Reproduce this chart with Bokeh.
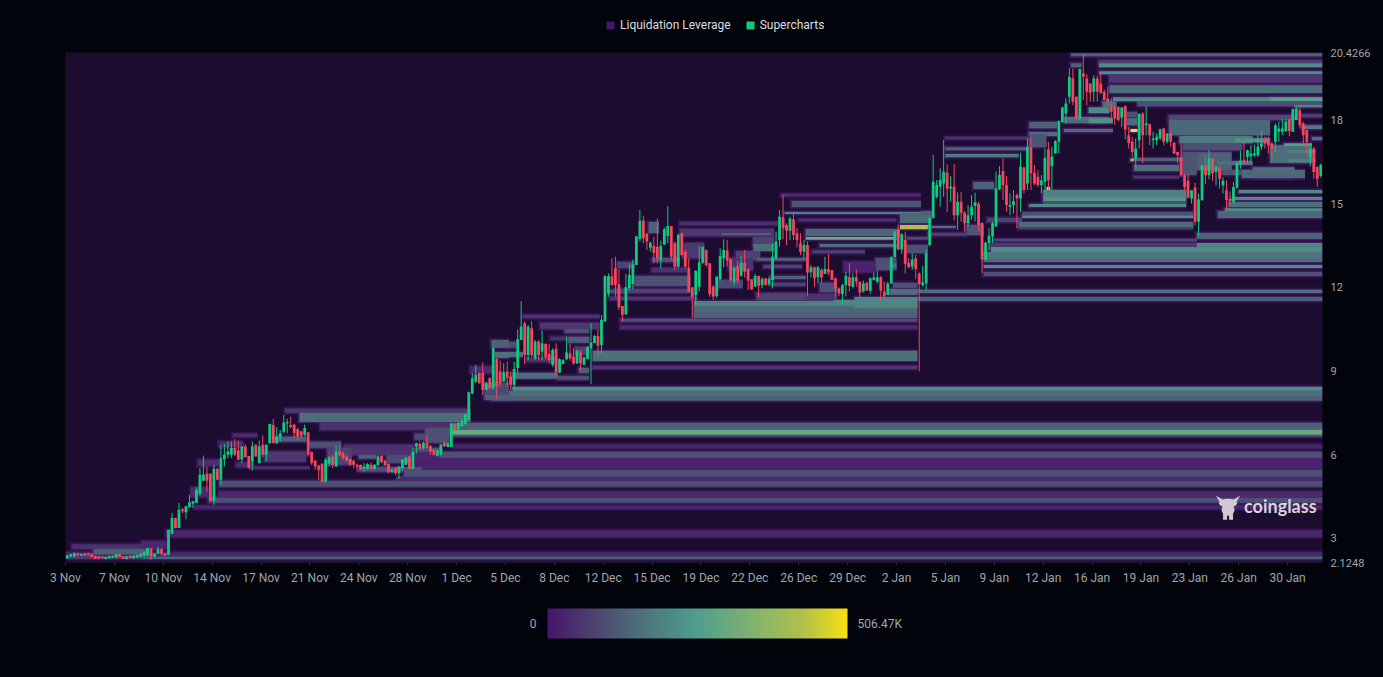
from bokeh.plotting import figure
from bokeh.layouts import column
from bokeh.models import (ColumnDataSource, LinearColorMapper, ColorBar, FixedTicker, Legend, LegendItem,
                          Label, Range1d)
from bokeh.embed import file_html
from bokeh.resources import INLINE

# ---- axis labels ----
date_labels = ["3 Nov","7 Nov","10 Nov","14 Nov","17 Nov","21 Nov","24 Nov","28 Nov","1 Dec","5 Dec","8 Dec","12 Dec",
               "15 Dec","19 Dec","22 Dec","26 Dec","29 Dec","2 Jan","5 Jan","9 Jan","12 Jan","16 Jan","19 Jan","23 Jan",
               "26 Jan","30 Jan"]
price_ticks = [2.1248, 3, 6, 9, 12, 15, 18, 20.4266]
price_labels = ["2.1248", "3", "6", "9", "12", "15", "18", "20.4266"]
heat_max = 506.47

# ---- candles: (open, high, low, close), one every 6 hours ----
candles_a = [
(2.28,2.40,2.26,2.38),(2.34,2.43,2.32,2.43),(2.34,2.49,2.33,2.46),(2.46,2.47,2.38,2.38),(2.37,2.45,2.36,2.44),
(2.45,2.46,2.37,2.37),(2.46,2.47,2.38,2.38),(2.44,2.44,2.32,2.32),(2.37,2.37,2.25,2.25),(2.34,2.34,2.26,2.26),
(2.34,2.34,2.28,2.28),(2.25,2.32,2.24,2.32),(2.28,2.36,2.27,2.36),(2.30,2.37,2.29,2.37),(2.30,2.43,2.29,2.43),
(2.43,2.44,2.32,2.32),(2.34,2.34,2.25,2.25),(2.25,2.34,2.24,2.34),(2.37,2.38,2.28,2.28),(2.28,2.38,2.27,2.38),
(2.30,2.40,2.29,2.40),(2.32,2.44,2.31,2.44),(2.34,2.52,2.33,2.49),(2.37,2.66,2.36,2.64),(2.64,2.65,2.22,2.34),
(2.34,2.46,2.30,2.44),(2.44,2.68,2.44,2.62),(2.62,2.63,2.37,2.44),(2.46,2.47,2.36,2.38),(2.40,3.30,2.40,3.30),
(3.16,3.90,3.15,3.72),(3.72,3.73,3.36,3.36),(3.36,4.26,3.36,4.02),(4.04,4.08,3.90,3.96),(3.93,4.14,3.68,4.14),
(4.11,4.55,4.10,4.28),(4.23,4.34,4.08,4.32),(4.26,4.83,4.26,4.73),(4.59,5.51,4.52,5.27),(5.06,5.96,5.05,5.27),
(5.31,5.57,4.67,5.06),(5.31,5.32,4.35,4.35),(4.34,5.63,4.20,5.49),(5.49,5.50,5.08,5.09),(5.09,6.32,4.91,5.87),
(5.83,6.38,5.57,5.99),(5.99,6.47,5.87,6.11),(5.99,6.47,5.87,6.23),(6.23,6.55,5.95,5.99),(6.14,6.50,5.81,5.81),
(5.83,6.29,5.69,6.29),(6.29,6.37,5.90,5.90),(5.95,5.95,5.51,5.51),(5.75,6.47,5.43,6.29),(6.35,6.36,5.93,5.93),
(5.69,6.50,5.69,6.29),(6.35,6.68,5.90,5.99),(5.99,6.37,5.75,6.35),(6.41,7.10,6.40,7.10),(7.06,7.28,6.40,6.41),
(6.41,6.98,6.37,6.65),(6.62,6.88,6.47,6.76),(6.82,7.42,6.76,7.15),(7.12,7.28,6.76,7.17),
]
candles_b = [
(7.06,7.36,6.94,6.98),(7.07,7.10,6.59,6.77),(6.91,6.95,6.53,6.65),(6.83,6.86,6.59,6.68),(6.71,7.07,6.65,6.95),
(6.80,6.80,5.93,5.99),(6.09,6.11,5.63,5.69),(5.78,5.81,5.45,5.57),(5.60,5.63,5.09,5.45),(5.67,5.69,5.00,5.03),
(5.03,5.87,5.00,5.81),(5.67,5.95,5.57,5.89),(5.93,5.99,5.51,5.63),(5.57,6.31,5.57,6.11),(6.11,6.35,5.93,5.99),
(6.05,6.11,5.81,5.87),(5.93,5.99,5.75,5.78),(5.84,5.84,5.60,5.63),(5.78,5.81,5.51,5.63),(5.63,5.67,5.39,5.57),
(5.63,5.63,5.45,5.47),(5.50,5.69,5.39,5.55),(5.48,5.69,5.45,5.66),(5.63,5.72,5.45,5.48),(5.48,5.66,5.45,5.63),
(5.61,5.97,5.61,5.93),(5.95,5.97,5.69,5.72),(5.78,5.81,5.60,5.61),(5.67,5.67,5.33,5.36),(5.38,5.49,5.33,5.45),
(5.51,5.55,5.27,5.33),(5.33,5.57,5.12,5.57),(5.51,5.84,5.45,5.81),(5.63,5.91,5.63,5.87),(5.93,5.93,5.49,5.49),
(5.49,6.23,5.49,6.09),(6.29,6.43,6.05,6.41),(6.38,6.47,6.19,6.21),(6.23,6.47,6.17,6.41),(6.41,6.68,6.23,6.23),
(6.31,6.35,5.99,6.11),(6.17,6.19,5.97,5.99),(5.95,6.17,5.93,6.14),(6.00,6.38,5.95,6.36),(6.43,6.47,6.27,6.29),
(6.27,6.43,6.27,6.41),(6.27,7.13,6.27,7.10),(7.09,7.13,6.83,6.89),(6.91,7.19,6.91,7.13),(7.01,7.27,7.01,7.19),
(7.09,7.46,7.07,7.43),(7.25,8.26,7.25,8.24),(8.18,8.92,8.18,8.74),(8.62,9.22,8.56,8.86),(8.92,8.94,8.54,8.56),
(8.92,9.30,8.14,8.32),(8.32,8.60,8.30,8.56),(8.74,8.77,8.35,8.38),(8.38,9.87,8.32,9.81),(9.43,9.46,8.00,8.44),
(8.98,9.37,8.44,8.56),(8.62,9.28,8.62,8.95),(8.98,9.34,8.42,8.74),
]
candles_c = [
(8.80,8.98,8.32,8.50),(8.50,9.33,8.32,9.07),(9.10,10.49,8.92,10.14),(10.11,11.51,10.11,10.59),(10.71,10.77,9.24,9.57),
(9.57,10.65,9.39,10.59),(10.53,10.79,9.51,9.57),(9.45,10.11,9.39,10.05),(10.05,10.11,9.37,9.57),(9.69,10.45,9.39,9.99),
(9.97,9.99,9.42,9.49),(9.61,9.97,9.27,9.39),(9.22,9.81,9.15,9.75),(9.79,9.99,8.80,8.95),(8.94,9.45,8.92,9.42),
(9.25,9.43,9.25,9.38),(9.42,10.23,9.39,9.66),(9.63,9.99,9.37,9.45),(9.51,9.81,9.22,9.27),(9.27,9.75,9.25,9.73),
(9.66,9.75,9.04,9.27),(9.22,9.49,9.21,9.49),(9.42,9.89,9.42,9.85),(9.81,10.71,8.53,10.02),(10.00,10.29,9.99,10.25),
(10.25,10.47,9.54,9.90),(9.93,11.01,9.63,10.83),(10.77,12.44,10.77,12.40),(11.78,12.50,11.66,12.40),(12.40,13.04,12.06,12.08),
(12.68,13.10,11.66,12.08),(12.11,12.64,11.19,11.28),(11.33,11.33,10.77,11.01),(11.03,12.48,11.01,12.00),(11.96,12.86,11.90,12.44),
(12.12,13.00,11.93,12.82),(12.80,13.84,12.80,13.83),(13.73,14.77,13.64,14.39),(14.39,14.57,13.58,13.76),(13.93,13.93,13.34,13.64),
(13.42,13.64,13.28,13.60),(13.48,13.81,12.86,13.24),(13.46,14.47,12.86,13.04),(12.98,13.67,12.68,13.48),(13.54,14.15,13.52,14.08),
(13.84,14.91,13.58,14.20),(14.20,14.20,12.98,13.10),(13.58,13.64,12.62,12.74),(12.74,13.93,12.68,13.88),(13.93,13.96,13.10,13.16),
(13.28,13.34,12.68,12.74),(12.70,13.04,11.84,11.84),(12.00,12.00,10.92,11.66),(11.72,12.60,11.40,12.60),(12.02,13.48,11.84,12.90),
(12.88,13.48,12.84,13.45),(13.34,13.36,12.74,12.80),(12.86,12.86,11.66,11.76),
]
candles_d = [
(12.02,12.08,11.55,11.67),(11.69,12.41,11.61,12.38),(12.29,13.40,12.24,13.12),(13.04,13.72,12.72,13.34),(13.32,13.70,12.74,12.96),
(13.00,13.04,12.20,12.26),(12.20,12.76,12.08,12.70),(12.76,12.96,12.14,12.24),(12.41,13.12,12.38,12.88),(12.88,13.34,12.36,12.56),
(12.65,12.68,11.90,12.24),(12.29,12.29,11.90,11.93),(12.02,12.48,12.02,12.41),(12.41,12.41,11.64,12.05),(12.08,12.36,11.96,12.29),
(12.32,12.32,12.06,12.08),(12.11,12.38,12.05,12.30),(12.26,13.58,11.96,13.10),(13.04,14.00,12.98,13.64),(13.70,14.77,13.46,14.53),
(14.51,15.31,13.72,14.12),(14.24,14.30,13.52,14.03),(14.03,14.53,13.70,14.47),(14.44,14.71,13.70,13.88),(13.94,14.12,13.43,13.70),
(13.58,13.94,13.16,13.28),(13.28,13.70,13.04,13.52),(13.52,13.64,11.67,12.53),(12.54,12.80,12.36,12.72),(12.72,12.74,12.02,12.32),
(12.36,12.76,12.14,12.72),(12.62,12.68,12.14,12.36),(12.48,13.10,12.48,12.66),(12.65,13.20,12.44,12.53),(12.62,12.62,12.26,12.26),
(12.32,12.36,11.64,11.96),(11.96,12.00,11.67,11.78),(11.76,12.12,11.39,12.08),(12.08,12.56,11.67,12.41),(12.36,12.86,11.85,12.05),
(12.02,12.50,11.96,12.36),(12.36,12.65,12.02,12.20),(12.20,12.20,11.60,11.81),(11.85,12.24,11.81,12.14),(12.17,12.17,11.88,11.88),
(11.88,12.36,11.76,12.32),(12.26,12.53,12.24,12.36),(12.20,12.60,12.14,12.36),(12.36,12.41,11.52,11.88),(11.85,12.20,11.67,11.67),
(11.73,12.20,11.73,12.14),(12.14,13.12,12.12,13.08),(13.08,14.03,13.08,14.00),(14.06,14.24,13.34,13.36),(13.36,13.94,13.20,13.90),
(13.70,14.00,12.50,12.84),(12.88,13.04,12.68,12.72),(12.74,13.22,12.62,13.00),(13.04,13.16,12.29,12.65),(12.50,12.53,8.98,12.12),
(12.08,12.76,12.02,12.17),
]
candles_e = [
(12.14,13.36,11.90,13.22),(13.52,14.53,13.46,14.48),(14.48,16.75,14.48,15.79),(15.25,15.85,15.19,15.67),(15.61,16.27,14.89,15.85),
(15.73,17.28,15.25,16.15),(16.11,16.41,14.71,15.55),(15.55,15.99,15.07,15.61),(15.61,16.42,14.39,14.59),(14.59,15.40,14.06,15.07),
(15.07,15.43,14.36,14.68),(14.68,14.74,14.00,14.30),(14.30,14.95,14.20,14.59),(14.59,15.31,14.42,14.89),(14.92,15.40,14.36,15.05),
(15.00,15.07,14.00,14.24),(14.32,14.32,12.50,13.00),(13.00,13.64,12.98,13.60),(13.58,14.12,13.34,13.85),(13.82,14.36,13.60,14.30),
(14.18,16.15,14.18,15.55),(15.53,16.35,15.49,16.03),(16.17,16.63,15.13,15.67),(15.67,15.99,14.71,14.95),(14.89,15.37,14.59,14.95),
(14.95,15.49,14.65,15.10),(15.31,15.37,14.12,15.19),(15.19,16.83,14.71,16.33),(16.30,16.33,15.37,15.49),(15.73,17.34,15.49,17.04),
(17.02,17.38,15.49,16.09),(16.11,16.39,15.67,15.73),(15.97,16.21,15.61,15.67),(15.67,16.03,15.37,15.83),(15.79,16.98,15.43,16.65),
(16.95,17.22,15.49,15.83),(16.35,17.04,15.49,16.69),(16.80,17.28,16.80,17.25),(17.22,17.98,16.80,17.98),(17.93,18.48,17.90,18.45),
(18.24,18.78,17.88,18.60),(18.84,19.85,18.60,19.55),(19.49,19.85,18.54,18.66),(18.84,18.84,18.00,18.06),(18.06,19.85,18.00,19.83),
(19.67,20.37,18.72,19.55),(19.49,19.65,18.54,19.02),(19.31,19.31,18.66,18.98),(19.02,19.61,18.66,19.49),(19.49,19.58,18.66,19.02),
(19.31,19.65,18.96,18.96),(19.02,19.10,18.72,18.72),(18.78,19.20,18.48,18.66),(18.48,18.78,17.88,18.30),(18.48,18.54,17.82,18.06),
(18.48,18.48,17.94,18.00),
]
candles_f = [
(18.09,18.47,17.75,18.45),(18.50,18.53,17.30,17.66),(17.46,17.76,16.98,17.18),(17.22,17.40,16.68,16.86),(16.62,17.34,16.32,16.98),
(17.28,18.23,16.98,18.23),(18.23,18.29,16.46,17.46),(17.82,18.50,17.46,17.88),(17.85,17.88,17.10,17.46),(17.28,17.58,16.98,17.34),
(17.28,17.52,17.10,17.40),(17.34,17.70,17.28,17.66),(17.70,17.73,17.10,17.22),(17.22,17.54,17.16,17.52),(17.52,17.58,17.04,17.22),
(17.19,17.22,16.78,16.80),(16.86,16.86,16.44,16.74),(16.68,17.16,15.96,16.02),(16.02,16.08,15.48,15.60),(15.82,16.06,15.19,15.22),
(15.19,15.48,15.00,15.48),(15.58,15.75,14.23,14.35),(14.35,15.36,13.83,15.15),(15.13,16.42,15.10,16.38),(16.38,16.74,15.72,16.02),
(16.02,16.92,15.87,16.62),(16.62,16.62,15.82,16.08),(16.14,16.34,15.66,16.34),(16.30,16.32,15.54,15.90),(15.66,15.94,15.37,15.82),
(15.48,15.84,14.77,15.13),(15.17,15.43,14.95,15.10),(15.07,15.78,15.00,15.60),(15.58,16.50,15.54,16.46),(16.42,16.90,16.26,16.54),
(16.56,17.22,16.42,16.48),(16.68,16.94,16.44,16.92),(16.70,17.10,16.42,16.80),(16.74,17.12,16.68,16.80),(16.74,17.46,16.68,17.04),
(17.04,17.61,16.92,17.16),(17.28,17.40,16.98,17.16),(17.22,17.40,16.80,17.10),(17.16,17.22,16.62,16.98),(17.22,17.88,16.86,17.82),
(17.58,17.94,17.22,17.70),(17.58,18.05,17.46,17.70),(17.60,18.05,17.58,17.94),(18.02,18.05,17.42,17.61),(17.58,18.41,17.58,18.39),
(18.00,18.45,18.00,18.42),(18.35,18.45,17.73,17.82),(17.88,17.94,17.16,17.46),(17.64,17.66,16.80,17.22),(16.68,17.10,16.34,16.98),
(16.98,17.04,15.90,16.14),(16.32,16.34,15.60,15.90),(16.00,16.44,15.94,16.40),
]
candles = candles_a + candles_b + candles_c + candles_d + candles_e + candles_f

# ---- liquidation bands: (from candle, to candle, price high, price low, value in K) ----
bands_lower = [
(0,360,2.48,2.34,30),(22,360,2.34,2.25,127),(0,22,2.34,2.26,76),(29,360,3.27,3.05,30),(37,360,4.16,4.06,30),
(41,360,4.45,4.27,100),(44,360,4.67,4.45,35),(44,360,5.06,4.84,100),(95,360,5.20,5.06,30),(97,360,5.45,5.20,100),
(100,360,5.63,5.45,25),(100,360,5.88,5.63,20),(107,360,6.10,5.88,100),(100,107,6.10,5.88,30),(111,360,6.35,6.24,25),
(110,360,7.14,6.89,127),(110,360,6.71,6.64,100),(110,360,6.89,6.71,304),
(122,360,8.07,7.93,127),(125,360,8.29,8.07,152),(128,360,8.43,8.29,213),
(244,360,11.91,11.80,152),(244,360,11.65,11.51,127),
]
bands_nov = [
(2,26,2.77,2.62,50),(8,24,2.62,2.41,127),(22,29,2.88,2.62,30),(36,41,4.81,4.49,35),(38,44,5.81,5.60,40),
(44,51,6.46,6.28,40),(48,55,6.74,6.64,40),(49,54,5.71,5.56,40),(53,70,5.56,5.49,50),(57,69,6.10,5.74,60),
(60,69,6.64,6.46,127),(63,116,7.64,7.50,60),(67,116,7.50,7.17,152),(73,110,7.14,6.89,50),
(100,103,6.75,6.53,90),(103,110,6.96,6.42,100),(98,108,6.24,6.10,100),(70,79,6.46,6.24,100),(80,100,6.35,5.99,50),
(92,99,5.99,5.70,90),(84,89,5.99,5.85,127),(84,102,5.55,5.38,100),(75,82,6.24,5.63,76),
]
bands_dec = [
(122,127,10.11,9.83,127),(123,127,9.68,9.47,160),(120,127,8.14,7.96,127),(116,123,9.15,8.93,35),(120,127,8.57,8.14,90),
(131,153,11.01,10.90,50),(136,153,10.72,10.51,60),(143,150,10.51,10.36,100),(139,150,10.22,10.11,50),(144,150,10.22,10.01,127),
(127,129,10.04,9.83,100),(127,131,9.68,9.50,152),(146,150,9.86,9.58,76),(132,141,9.47,9.33,50),(128,141,8.93,8.72,152),
(141,150,8.82,8.68,100),(147,150,9.11,8.93,127),(151,244,9.72,9.36,160),(151,244,9.18,9.07,60),(159,244,10.62,10.51,40),
(159,244,10.87,10.76,100),
(180,244,11.08,10.90,127),(180,244,11.30,11.08,140),(180,244,11.51,11.30,190),(198,221,11.76,11.51,50),
(156,161,11.91,11.80,110),(156,181,11.65,11.55,60),(157,179,11.94,11.80,76),(163,179,12.41,12.05,100),(158,163,12.91,12.69,76),
(167,170,14.34,13.95,127),(168,176,13.05,12.91,100),(168,178,12.69,12.55,50),(176,204,14.34,14.24,40),(176,203,14.09,13.84,60),
(188,202,13.95,13.88,127),(177,183,13.59,13.05,60),
(197,203,13.81,13.55,76),(197,203,13.55,13.30,152),(192,199,13.30,12.98,76),(190,197,13.05,12.62,50),(198,212,13.05,12.95,127),
(200,211,12.80,12.69,76),(202,212,12.41,12.30,127),(202,212,12.16,12.05,76),(198,212,11.79,11.55,76),(187,194,12.26,11.98,90),
(205,245,15.35,15.27,40),(208,245,15.10,14.88,110),(206,245,14.70,14.63,192),(210,238,14.45,14.38,50),(212,239,14.09,13.84,137),
(212,238,13.81,13.71,304),(216,238,13.55,13.45,152),(214,229,13.32,13.23,76),(239,248,14.67,14.31,142),
(241,247,13.80,13.72,100),(241,247,13.52,13.23,100),(232,238,13.05,12.62,100),(236,238,12.85,12.70,160),(223,232,12.91,12.55,25),
(216,221,12.16,11.83,100),(237,244,12.16,11.98,100),(236,244,11.94,11.73,152),(226,244,11.65,11.26,203),(220,228,11.55,11.37,203),
(239,247,14.24,14.08,430),
]
bands_jan = [
(263,360,12.55,12.41,100),(263,360,12.80,12.69,213),(263,360,13.05,12.91,152),(263,360,13.27,13.05,167),(265,360,13.45,13.27,213),
(265,324,13.59,13.45,60),(324,360,13.59,13.45,203),(324,360,13.95,13.73,127),(266,324,13.73,13.66,90),
(273,323,14.34,14.16,152),(274,323,14.59,14.49,213),(274,323,14.70,14.59,100),(276,321,14.99,14.88,213),(280,321,15.10,14.99,100),
(280,321,15.24,15.10,228),(280,321,15.49,15.24,192),(273,323,14.16,14.09,76),
(336,360,15.49,15.38,213),(334,360,15.24,15.13,213),(333,360,15.06,14.88,152),(332,360,14.84,14.74,213),(330,360,14.74,14.49,142),
(288,360,20.40,20.29,127),(296,360,20.15,20.04,76),(296,360,20.04,19.90,213),(296,360,19.75,19.65,213),(299,360,19.65,19.36,60),
(299,360,19.25,18.97,152),(300,360,18.82,18.68,213),(345,360,18.82,18.68,263),(307,360,18.68,18.50,100),(352,360,18.54,18.46,203),
(354,360,18.21,18.11,76),(354,360,17.82,17.68,177),(357,360,17.39,17.28,152),
(316,352,18.18,18.00,90),(316,345,18.00,17.46,142),(319,340,17.43,17.17,177),(335,345,17.35,17.20,228),(320,337,17.17,16.92,100),
(320,334,16.85,16.20,127),(330,340,16.53,16.39,152),(331,343,16.21,16.03,100),(340,352,16.31,15.92,152),(345,357,17.10,16.46,152),
(349,357,17.17,17.07,253),(350,358,16.92,16.82,192),(350,358,16.60,16.50,192),(337,355,16.21,15.92,142),
(304,307,18.29,18.11,100),(304,307,18.07,17.82,152),(286,299,18.11,17.89,152),(293,300,18.07,17.89,228),(286,300,17.68,17.57,152),
(293,299,18.46,18.25,213),(297,301,18.68,18.46,152),(288,291,20.04,19.90,127),(276,284,17.93,17.71,127),(276,284,17.57,17.43,152),
(276,281,17.50,17.03,110),(252,276,17.39,17.32,50),(252,276,17.03,16.92,127),(252,273,16.78,16.67,177),(260,266,15.78,15.53,127),
(245,248,14.74,14.59,127),(247,255,14.20,14.13,152),(247,258,13.95,13.86,76),(258,263,14.24,13.88,110),(264,274,14.49,14.34,76),
(306,319,16.39,16.17,152),(306,322,16.64,16.53,127),(306,319,15.99,15.92,60),(320,324,16.85,16.03,110),
(305,307,17.68,17.57,506),(281,282,15.60,15.49,506),(305,306,16.62,16.52,400),
]
bands = bands_lower + bands_nov + bands_dec + bands_jan

# ---- colours ----
PAGE = "#02040b"
PLOT_BG = "#1c0c30"
UP, DOWN = "#0ecb81", "#f6465d"
stops = [(0.0, (71, 21, 107)), (0.15, (77, 66, 112)), (0.3, (77, 110, 122)), (0.5, (79, 158, 142)),
         (0.7, (134, 180, 108)), (0.85, (176, 192, 74)), (1.0, (245, 224, 18))]
palette = []
for n in range(256):
    f = n / 255
    for (a, ca), (b, cb) in zip(stops, stops[1:]):
        if a <= f <= b:
            t = (f - a) / (b - a)
            palette.append("#%02x%02x%02x" % tuple(round(u + (w - u) * t) for u, w in zip(ca, cb)))
            break
mapper = LinearColorMapper(palette=palette, low=0, high=heat_max)

x_ticks = [14 * k for k in range(len(date_labels))]
p = figure(width=1383, height=548, output_backend="svg", toolbar_location=None,
           x_range=Range1d(0, 360), y_range=Range1d(price_ticks[0], price_ticks[-1]),
           background_fill_color=PLOT_BG, border_fill_color=PAGE, outline_line_color=None,
           min_border_left=65, min_border_right=61, min_border_top=10, min_border_bottom=28,
           x_axis_location="below", y_axis_location="right")
p.grid.visible = False

# soft halo under each band, then the band itself
heat = ColumnDataSource(dict(
    left=[b[0] for b in bands], right=[b[1] for b in bands],
    top=[b[2] for b in bands], bottom=[b[3] for b in bands], value=[b[4] for b in bands]))
halo_outer = ColumnDataSource(dict(
    left=[max(b[0] - 0.8, 0) for b in bands], right=[b[1] for b in bands],
    top=[b[2] + 0.09 for b in bands], bottom=[b[3] - 0.09 for b in bands]))
halo_inner = ColumnDataSource(dict(
    left=[max(b[0] - 0.4, 0) for b in bands], right=[b[1] for b in bands],
    top=[b[2] + 0.04 for b in bands], bottom=[b[3] - 0.04 for b in bands]))
p.quad(left="left", right="right", top="top", bottom="bottom", source=halo_outer,
       fill_color="#47156b", fill_alpha=0.35, line_color=None)
p.quad(left="left", right="right", top="top", bottom="bottom", source=halo_inner,
       fill_color="#4a2f6e", fill_alpha=0.6, line_color=None)
p.quad(left="left", right="right", top="top", bottom="bottom", source=heat,
       fill_color={"field": "value", "transform": mapper}, line_color=None)

# candles
cd = ColumnDataSource(dict(
    x=[i + 0.5 for i in range(len(candles))],
    o=[c[0] for c in candles], h=[c[1] for c in candles], l=[c[2] for c in candles], c=[c[3] for c in candles],
    color=[UP if c[3] >= c[0] else DOWN for c in candles]))
p.segment(x0="x", x1="x", y0="h", y1="l", source=cd, line_color="color", line_width=1)
p.vbar(x="x", width=0.8, top="o", bottom="c", source=cd, fill_color="color", line_color=None)

# watermark
wm = "#cfc9d4"
def wx(px): return (px - 65) / 3.49
def wy(py): return 22.3 - py / 27.9
p.ellipse(x=[wx(1227), wx(1227)], y=[wy(503.5), wy(510)], width=[18 / 3.49, 13 / 3.49], height=[9 / 27.9, 12 / 27.9],
          fill_color=wm, line_color=None)
p.patches(xs=[[wx(1215), wx(1222), wx(1219)], [wx(1239), wx(1232), wx(1235)], [wx(1222), wx(1226), wx(1226), wx(1222)], [wx(1228), wx(1232), wx(1232), wx(1228)]],
          ys=[[wy(496), wy(500), wy(503)], [wy(496), wy(500), wy(503)], [wy(512), wy(512), wy(520), wy(520)], [wy(512), wy(512), wy(520), wy(520)]],
          fill_color=wm, line_color=None)
p.add_layout(Label(x=wx(1243), y=wy(506.5), text="coinglass", text_color="#d8d4dc", text_font="Lato",
                   text_font_style="bold", text_font_size="18px", text_baseline="middle", text_align="left"))

# axes
xa = p.xaxis[0]
xa.ticker = FixedTicker(ticks=x_ticks)
xa.major_label_overrides = {t: s for t, s in zip(x_ticks, date_labels)}
xa.major_label_text_color = "#a3a5a9"
xa.major_label_text_font = "Roboto"
xa.major_label_text_font_size = "12px"
xa.axis_line_color = "#1a1b22"
xa.major_tick_line_color = "#2a2b33"
xa.major_tick_in = 0
xa.major_tick_out = 3
xa.minor_tick_line_color = None
xa.major_label_standoff = 5

ya = p.yaxis[0]
ya.ticker = FixedTicker(ticks=price_ticks)
ya.major_label_overrides = {t: s for t, s in zip(price_ticks, price_labels)}
ya.major_label_text_color = "#a3a5a9"
ya.major_label_text_font = "Roboto"
ya.major_label_text_font_size = "11px"
ya.axis_line_color = None
ya.major_tick_line_color = None
ya.minor_tick_line_color = None
ya.major_label_standoff = 2

# header strip with the legend (its frame lines up with the main frame)
header = figure(width=1383, height=42, output_backend="svg", toolbar_location=None,
                x_range=Range1d(0, 1257), y_range=Range1d(0, 42), outline_line_color=None,
                background_fill_color=PAGE, border_fill_color=PAGE,
                min_border_left=0, min_border_right=0, min_border_top=0, min_border_bottom=0)
header.axis.visible = False
header.grid.visible = False
swatch = dict(left=[-30], right=[-20], top=[-20], bottom=[-30], line_color=None)
key_liq = header.quad(fill_color="#47156b", **swatch)
key_up = header.quad(fill_color=UP, **swatch)
legend = Legend(items=[LegendItem(label="Liquidation Leverage", renderers=[key_liq]),
                       LegendItem(label="Supercharts", renderers=[key_up])],
                orientation="horizontal", location=(540, 10), background_fill_alpha=0, border_line_color=None,
                glyph_width=10, glyph_height=10, label_standoff=5, spacing=14, padding=0, margin=0,
                label_text_color="#dcdee2", label_text_font="Roboto", label_text_font_size="12px")
header.add_layout(legend, "center")

# footer strip with the colour scale
footer = figure(width=1383, height=87, output_backend="svg", toolbar_location=None,
                x_range=Range1d(0, 1257), y_range=Range1d(0, 87), outline_line_color=None,
                background_fill_color=PAGE, border_fill_color=PAGE,
                min_border_left=0, min_border_right=0, min_border_top=0, min_border_bottom=0)
footer.axis.visible = False
footer.grid.visible = False
bar = ColorBar(color_mapper=mapper, orientation="horizontal", width=300, height=30, location=(482, 39),
               ticker=FixedTicker(ticks=[]), major_tick_line_color=None, minor_tick_line_color=None,
               bar_line_color=None, border_line_color=None, background_fill_alpha=0, padding=0, margin=0,
               major_label_text_font_size="0px")
footer.add_layout(bar, "center")
for txt, px, align in (("0", 471, "right"), ("506.47K", 792, "left")):
    footer.add_layout(Label(x=px, y=54, text=txt, text_color="#a3a5a9", text_font="Roboto",
                            text_font_size="12px", text_baseline="middle", text_align=align))

page = column(header, p, footer, spacing=0)
html = file_html(page, INLINE, title="Liquidation Leverage")
html = html.replace("</head>", "<style>html,body{background:%s;overflow:hidden}</style></head>" % PAGE, 1)
open("out.html", "w").write(html)
